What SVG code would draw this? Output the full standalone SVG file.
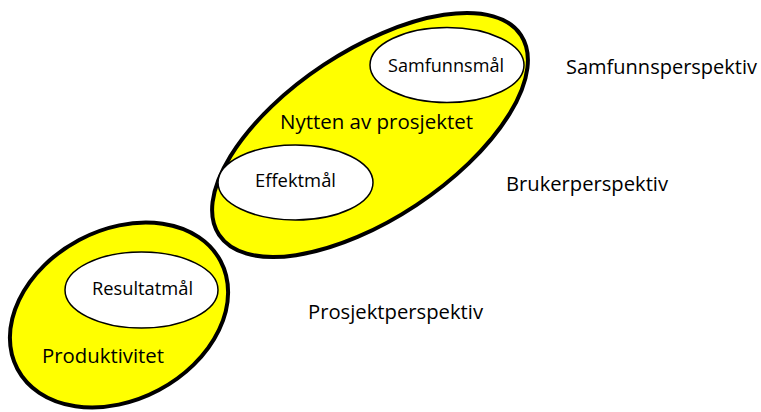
<svg xmlns="http://www.w3.org/2000/svg" width="761" height="412" viewBox="0 0 761 412">
<style>
.big{fill:#FFFF00;stroke:#000;stroke-width:4}
.small{fill:#fff;stroke:#000;stroke-width:1.5}
text{font-family:"Open Sans","Noto Sans","Liberation Sans",sans-serif;font-size:20px;fill:#000}
.in{font-size:18px}
</style>
<rect width="761" height="412" fill="#fff"/>
<g id="nytten">
<ellipse class="big" cx="370" cy="135" rx="181" ry="84" transform="rotate(-33.5 370 135)"/>
<text x="280" y="129" textLength="193" lengthAdjust="spacingAndGlyphs">Nytten av prosjektet</text>
</g>
<g id="samfunnsmal">
<ellipse class="small" cx="447" cy="65" rx="77" ry="37.5"/>
<text class="in" x="388" y="72" textLength="116" lengthAdjust="spacingAndGlyphs">Samfunnsmål</text>
</g>
<g id="effektmal">
<ellipse class="small" cx="295.5" cy="182.5" rx="77.5" ry="37.5"/>
<text class="in" x="255" y="187" textLength="81" lengthAdjust="spacingAndGlyphs">Effektmål</text>
</g>
<g id="produktivitet">
<ellipse class="big" cx="119" cy="315" rx="115" ry="85" transform="rotate(-28 119 315)"/>
<text x="42" y="363" textLength="122" lengthAdjust="spacingAndGlyphs">Produktivitet</text>
</g>
<g id="resultatmal">
<ellipse class="small" cx="141.5" cy="290" rx="76.5" ry="38"/>
<text class="in" x="92" y="295" textLength="101" lengthAdjust="spacingAndGlyphs">Resultatmål</text>
</g>
<g id="samfunnsperspektiv"><text x="566" y="74" textLength="191" lengthAdjust="spacingAndGlyphs">Samfunnsperspektiv</text></g>
<g id="brukerperspektiv"><text x="506" y="191" textLength="162" lengthAdjust="spacingAndGlyphs">Brukerperspektiv</text></g>
<g id="prosjektperspektiv"><text x="308" y="319" textLength="175" lengthAdjust="spacingAndGlyphs">Prosjektperspektiv</text></g>
<g id="connectors"></g>
</svg>
